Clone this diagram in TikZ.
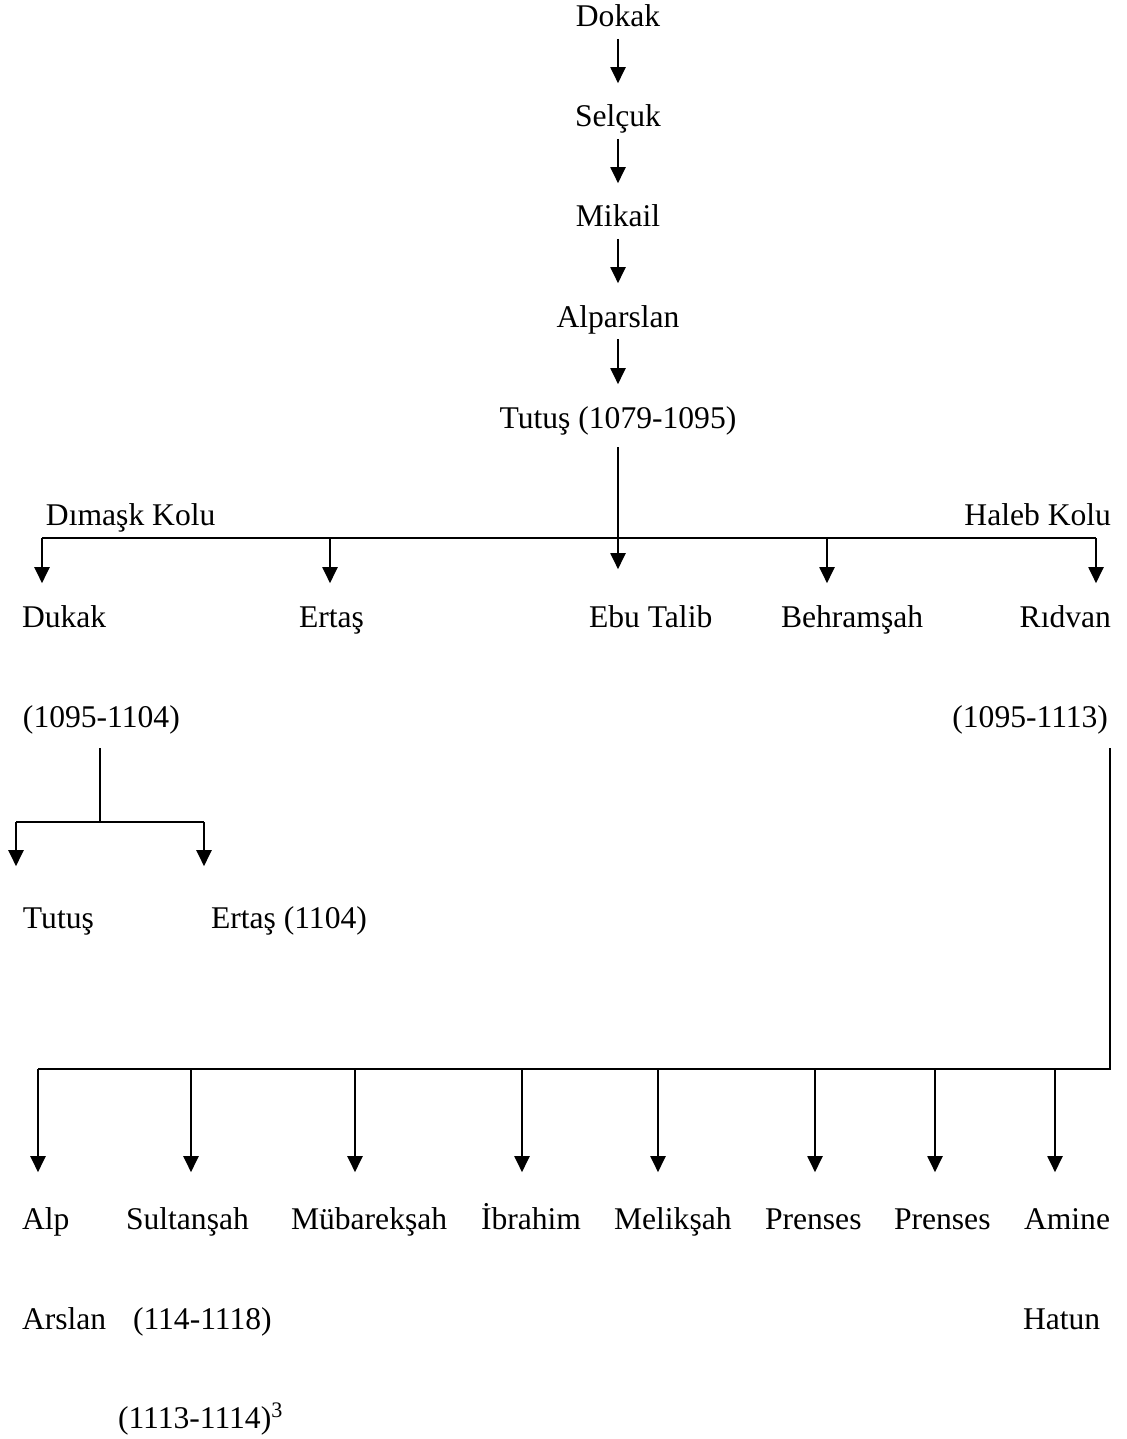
\documentclass[tikz,border=0pt]{standalone}
\usepackage{fontspec}
\setmainfont{Liberation Serif}
\usetikzlibrary{arrows.meta}

\begin{document}
\begin{tikzpicture}[
    x=0.5pt, y=-0.5pt,
    font=\fontsize{15.8pt}{19pt}\selectfont,
    line width=1pt,
    >={Triangle[length=8pt,width=7.5pt]},
    isim/.style={
        inner sep=0pt,
        text height=11.4pt,
        text depth=3.5pt,
        anchor=base west
    },
    zincir/.style={isim, anchor=base},
    ok/.style={->, shorten <=2pt, shorten >=10pt}
]
    \useasboundingbox (0,0) rectangle (1126,1439);

    % soy zinciri
    \node[zincir] (dokak) at (618,27) {Dokak};
    \node[zincir] (selcuk) at (618,127) {Selçuk};
    \node[zincir] (mikail) at (618,227) {Mikail};
    \node[zincir] (alparslan) at (618,327) {Alparslan};
    \node[zincir] (tutus) at (618,428) {Tutuş (1079-1095)};

    \draw[ok] (dokak.south) -- (selcuk.north);
    \draw[ok] (selcuk.south) -- (mikail.north);
    \draw[ok] (mikail.south) -- (alparslan.north);
    \draw[ok] (alparslan.south) -- (tutus.north);

    % Tutuş'un oğulları
    \node[isim] (dimask) at (45,525) {Dımaşk Kolu};
    \node[isim, anchor=base east] (haleb) at (1112,525) {Haleb Kolu};

    \node[isim] (dukak) at (21,627) {Dukak};
    \node[isim] (ertas) at (298,627) {Ertaş};
    \node[isim] (ebutalib) at (588,627) {Ebu Talib};
    \node[isim] (behramsah) at (780,627) {Behramşah};
    \node[isim, anchor=base east] (ridvan) at (1112,627) {Rıdvan};

    \node[isim] (dukaktarih) at (22,727) {(1095-1104)};
    \node[isim, anchor=base east] (ridvantarih) at (1109,727) {(1095-1113)};

    \coordinate (kolsol) at (42,538);
    \coordinate (kolsag) at (1096,538);
    \draw (kolsol) -- (kolsag);
    \draw[->, shorten <=5.5pt, shorten >=17pt]
        (tutus.south) -- (tutus.south |- ebutalib.north);
    \foreach \x/\hedef in {42/dukak, 330/ertas, 827/behramsah, 1096/ridvan}
        \draw[->, shorten >=10pt] (\x,538) -- (\x,538 |- \hedef.north);

    % Dımaşk kolu
    \node[isim] (tutusk) at (22,928) {Tutuş};
    \node[isim] (ertask) at (210,928) {Ertaş (1104)};

    \coordinate (dukakdugum) at (100,822);
    \draw[shorten <=6.5pt] (dukaktarih.south -| dukakdugum) -- (dukakdugum);
    \draw (16,822) -- (204,822);
    \foreach \x/\hedef in {16/tutusk, 204/ertask}
        \draw[->, shorten >=19pt] (\x,822) -- (\x,822 |- \hedef.north);

    % Haleb kolu
    \node[isim] (alp) at (21,1229) {Alp};
    \node[isim] (arslan) at (21,1329) {Arslan};
    \node[isim] (sultansah) at (125,1229) {Sultanşah};
    \node[isim] (sultantarih) at (132,1329) {(114-1118)};
    \node[isim] (sultantarihb) at (117,1428) {(1113-1114)\textsuperscript{3}};
    \node[isim] (mubareksah) at (290,1229) {Mübarekşah};
    \node[isim] (ibrahim) at (480,1229) {İbrahim};
    \node[isim] (meliksah) at (613,1229) {Melikşah};
    \node[isim] (prensesa) at (764,1229) {Prenses};
    \node[isim] (prensesb) at (893,1229) {Prenses};
    \node[isim] (amine) at (1023,1229) {Amine};
    \node[isim] (hatun) at (1022,1329) {Hatun};

    \coordinate (ridvankose) at (1110,1069);
    \draw[shorten <=6.5pt] (ridvantarih.south -| ridvankose) -- (ridvankose) -- (38,1069);
    \foreach \x/\hedef in {38/alp, 191/sultansah, 355/mubareksah, 522/ibrahim,
                           658/meliksah, 815/prensesa, 935/prensesb, 1055/amine}
        \draw[->, shorten >=16.5pt] (\x,1069) -- (\x,1069 |- \hedef.north);
\end{tikzpicture}
\end{document}
